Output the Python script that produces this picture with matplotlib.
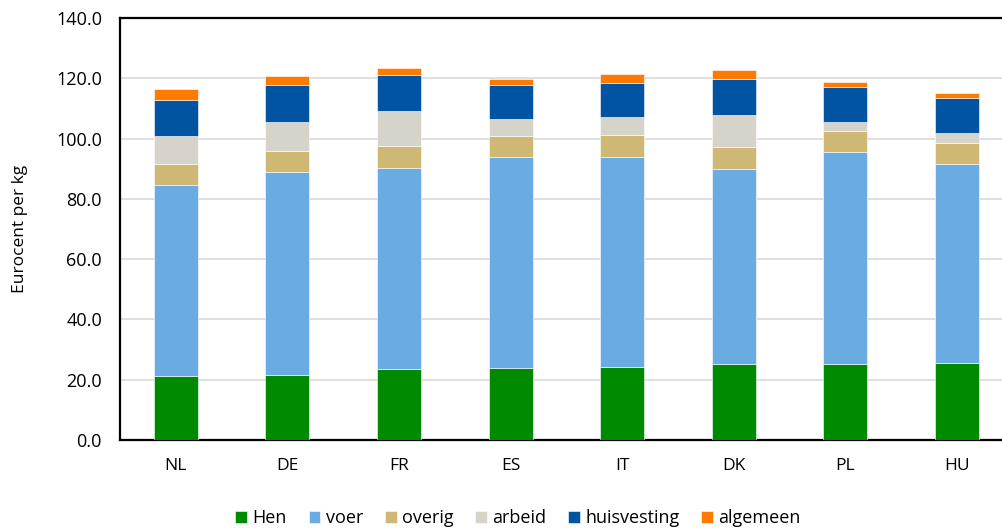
import matplotlib.pyplot as plt
import numpy as np

plt.rcParams['font.family'] = ['Open Sans', 'DejaVu Sans']

landen = ['NL', 'DE', 'FR', 'ES', 'IT', 'DK', 'PL', 'HU']
hen = [21.3, 21.7, 23.7, 24.0, 24.2, 25.2, 25.1, 25.4]
voer = [63.3, 67.3, 66.7, 69.9, 69.8, 64.7, 70.3, 66.1]
overig = [7.0, 7.0, 7.2, 7.0, 7.2, 7.2, 7.2, 7.1]
arbeid = [9.2, 9.4, 11.6, 5.7, 5.9, 10.7, 3.0, 3.3]
huisvesting = [12.0, 12.4, 12.0, 11.3, 11.5, 12.0, 11.6, 11.7]
algemeen = [3.7, 3.1, 2.3, 2.0, 2.8, 3.1, 1.7, 1.4]

reeksen = [('Hen', hen, '#008A00'),
           ('voer', voer, '#6AACE2'),
           ('overig', overig, '#CFB873'),
           ('arbeid', arbeid, '#D6D3CA'),
           ('huisvesting', huisvesting, '#0054A2'),
           ('algemeen', algemeen, '#FF7A00')]

fig = plt.figure(figsize=(10.02, 5.28), dpi=100)
ax = fig.add_axes([0.1198, 0.1667, 0.891, 0.7992])

x = np.arange(len(landen))
bodem = np.zeros(len(landen))
for naam, waarden, kleur in reeksen:
    ax.bar(x, waarden, 0.395, bottom=bodem, color=kleur, label=naam,
           edgecolor='white', linewidth=0.4, zorder=3)
    bodem += np.array(waarden)

ax.set_xlim(-0.5, len(landen) - 0.5)
ax.set_ylim(0, 140)
ax.set_yticks(np.arange(0, 141, 20))
ax.set_yticklabels(['%.1f' % v for v in np.arange(0, 141, 20)], fontsize=13)
ax.set_xticks(x)
ax.set_xticklabels(landen, fontsize=12.5)
ax.tick_params(axis='both', length=0)
ax.tick_params(axis='y', pad=13)
ax.tick_params(axis='x', pad=13)
ax.grid(axis='y', color='#D9D9D9', linewidth=1.2, zorder=0)
for s in ax.spines.values():
    s.set_color('black')
    s.set_linewidth(1.6)
ax.set_ylabel('Eurocent per kg', fontsize=12.5, labelpad=20)

fig.legend(loc='center', bbox_to_anchor=(0.517, 0.019), ncol=6,
           frameon=False, fontsize=13, handlelength=0.65, handleheight=0.65,
           handletextpad=0.3, columnspacing=1.2, borderaxespad=0)

fig.savefig('out.png', dpi=100)
